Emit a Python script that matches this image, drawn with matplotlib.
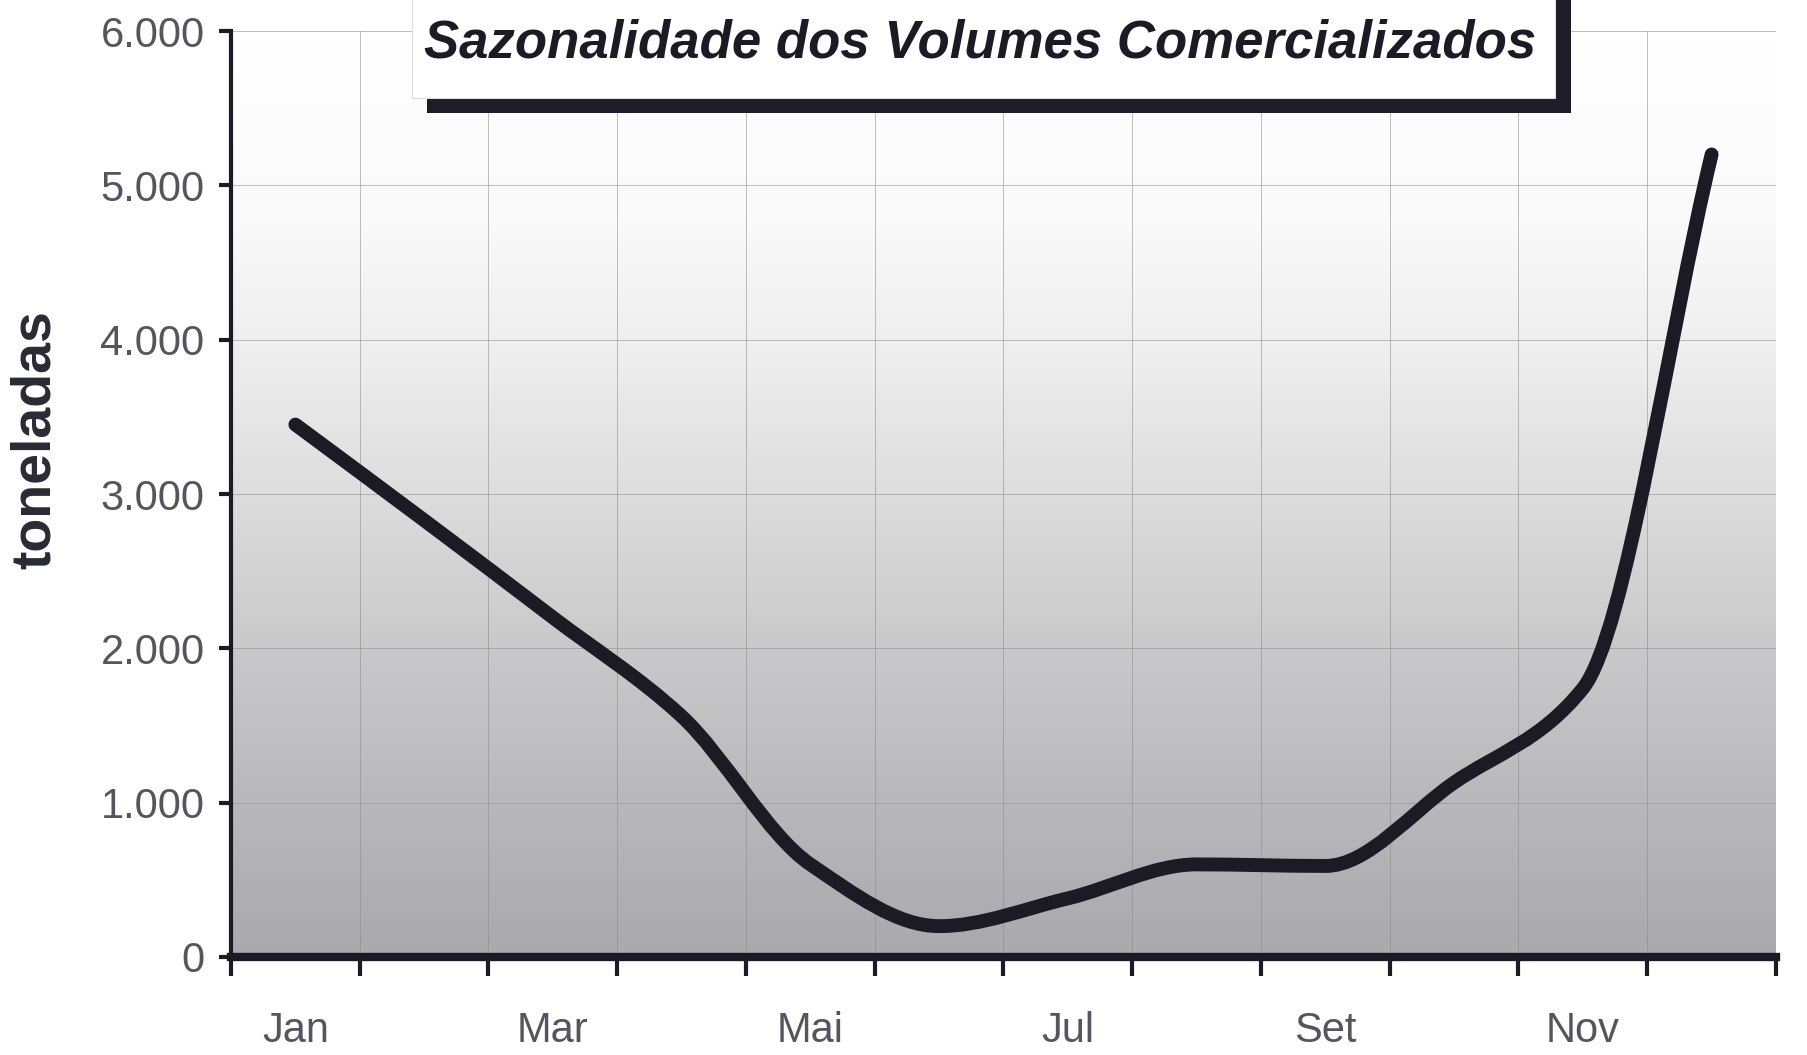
import numpy as np
import matplotlib.pyplot as plt
from matplotlib.path import Path
from matplotlib.patches import PathPatch, Rectangle
from matplotlib.colors import LinearSegmentedColormap

# dados (toneladas por mes)
meses = ['Jan', 'Fev', 'Mar', 'Abr', 'Mai', 'Jun', 'Jul', 'Ago', 'Set', 'Out', 'Nov', 'Dez']
toneladas = [3450, 2830, 2200, 1560, 600, 200, 380, 600, 590, 1130, 1740, 5200]
rotulos_x = ['Jan', 'Mar', 'Mai', 'Jul', 'Set', 'Nov']
valores_y = [0, 1000, 2000, 3000, 4000, 5000, 6000]
rotulos_y = ['0', '1.000', '2.000', '3.000', '4.000', '5.000', '6.000']
titulo = 'Sazonalidade dos Volumes Comercializados'

W, H = 1808, 1055
fig = plt.figure(figsize=(W / 100, H / 100), dpi=100)
ax = fig.add_axes([231 / W, 1 - 957 / H, (1776 - 231) / W, (957 - 31) / H])

# fundo em degrade (cinza embaixo, branco em cima)
fundo = LinearSegmentedColormap.from_list('fundo', [
    (0.0, '#a9a9ae'), (0.15, '#b7b7ba'), (0.35, '#cbcbcc'),
    (0.5, '#dddddd'), (0.65, '#eeeeee'), (0.8, '#fafafa'), (1.0, '#ffffff')])
grad = np.linspace(0, 1, 256).reshape(-1, 1)
ax.imshow(grad, extent=[0, 12, 0, 6000], origin='lower', aspect='auto',
          cmap=fundo, zorder=0)

# curva suavizada (cubica monotona) desenhada como path de Bezier
x = np.arange(len(meses)) + 0.5
y = np.array(toneladas, dtype=float)
d = np.diff(y)
m = np.zeros(len(y))
m[0], m[-1] = d[0], d[-1]
for i in range(1, len(y) - 1):
    if d[i - 1] * d[i] > 0:
        m[i] = 2 * d[i - 1] * d[i] / (d[i - 1] + d[i])
verts = [(x[0], y[0])]
codes = [Path.MOVETO]
for i in range(len(x) - 1):
    verts += [(x[i] + 1 / 3, y[i] + m[i] / 3),
              (x[i + 1] - 1 / 3, y[i + 1] - m[i + 1] / 3),
              (x[i + 1], y[i + 1])]
    codes += [Path.CURVE4] * 3
ax.add_patch(PathPatch(Path(verts, codes), fill=False, lw=10,
                       edgecolor='#1c1a24', capstyle='round', zorder=3))

ax.set_xlim(0, 12)
ax.set_ylim(0, 6000)
ax.grid(True, color='#8a8a8a', lw=0.7, alpha=0.55)
ax.set_axisbelow(True)

for s in ['top', 'right']:
    ax.spines[s].set_visible(False)
ax.spines['left'].set_linewidth(3)
ax.spines['bottom'].set_linewidth(6)
ax.spines['left'].set_color('#1c1a24')
ax.spines['bottom'].set_color('#1c1a24')

fonte = ['Liberation Sans', 'DejaVu Sans']
ax.set_yticks(valores_y)
ax.set_yticklabels(rotulos_y, fontsize=30, color='#55555e', family=fonte)
ax.tick_params(axis='y', length=9, width=3, color='#1c1a24', pad=10)

ax.set_xticks(range(13))
ax.set_xticklabels([])
ax.tick_params(axis='x', which='major', length=14, width=3, color='#1c1a24')
ax.set_xticks(x[::2], minor=True)
ax.set_xticklabels(rotulos_x, minor=True, fontsize=30, color='#55555e',
                   family=fonte)
ax.tick_params(axis='x', which='minor', length=0, pad=39)

fig.text(36 / W, 1 - 440 / H, 'toneladas', fontsize=40, fontweight='bold',
         color='#2a2a35', rotation=90, ha='center', va='center', family=fonte)

# caixa do titulo com sombra
fig.patches.append(Rectangle((427 / W, 1 - 113 / H), (1571 - 427) / W, 113 / H,
                             transform=fig.transFigure, facecolor='#1e1c28',
                             edgecolor='none', zorder=4))
fig.patches.append(Rectangle((412 / W, 1 - 98 / H), (1555 - 412) / W, 0.2,
                             transform=fig.transFigure, facecolor='white',
                             edgecolor='#dddddd', lw=0.8, zorder=5))
fig.text(424 / W, 1 - 44 / H, titulo, fontsize=38, fontweight='bold',
         fontstyle='italic', color='#1c1a24', va='center', ha='left',
         family=fonte, zorder=6)

plt.savefig('out.png', dpi=100)
